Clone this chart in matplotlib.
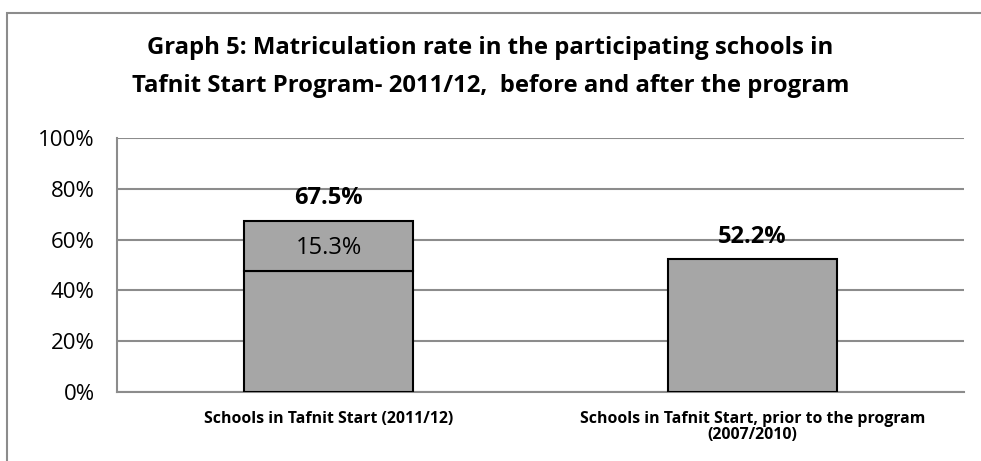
import matplotlib

matplotlib.use("Agg")
import matplotlib.pyplot as plt
from matplotlib.patches import Rectangle
import numpy as np

plt.rcParams["font.family"] = ["Open Sans", "DejaVu Sans"]

categories = [
    "Schools in Tafnit Start (2011/12)",
    "Schools in Tafnit Start, prior to the program\n(2007/2010)",
]
base_values = [47.5, 52.2]
added_values = [20.0, 0.0]
total_labels = ["67.5%", "52.2%"]
added_label = "15.3%"
yticks = [0, 20, 40, 60, 80, 100]

GRID = "#8c8c8c"
BAR = "#a6a6a6"

fig = plt.figure(figsize=(9.81, 4.61), dpi=100)
fig.patches.append(Rectangle((7 / 981, -0.1), 1.2, (461 - 13) / 461 + 0.1,
                             transform=fig.transFigure, fill=False,
                             edgecolor=GRID, linewidth=1.5))
ax = fig.add_axes([117 / 981, 69 / 461, 847 / 981, 254 / 461])

x = np.arange(len(categories))
ax.bar(x, base_values, width=0.40, color=BAR, edgecolor="black", linewidth=1.5, zorder=3)
ax.bar(x[:1], added_values[:1], bottom=base_values[:1], width=0.40, color=BAR,
       edgecolor="black", linewidth=1.5, zorder=3)

tops = [b + a for b, a in zip(base_values, added_values)]
for xi, top, lab in zip(x, tops, total_labels):
    ax.text(xi, top + 4.2, lab, ha="center", va="bottom", fontsize=17, fontweight="bold", zorder=4)
ax.text(x[0], base_values[0] + added_values[0] / 2 - 0.8, added_label, ha="center", va="center",
        fontsize=17, zorder=4)

ax.set_xlim(-0.5, 1.5)
ax.set_ylim(0, 100)
ax.set_yticks(yticks)
ax.set_yticklabels([f"{t}%" for t in yticks], fontsize=16)
ax.set_xticks(x)
ax.set_xticklabels(categories, fontsize=11.4, fontweight="bold", linespacing=1.0)
ax.tick_params(axis="x", length=0, pad=14)
ax.tick_params(axis="y", length=0, pad=16)
ax.grid(axis="y", color=GRID, linewidth=1.5, zorder=0)
for side in ("top", "right"):
    ax.spines[side].set_visible(False)
for side in ("left", "bottom"):
    ax.spines[side].set_color(GRID)
    ax.spines[side].set_linewidth(1.5)

fig.text(0.5, 1 - 67 / 461,
         "Graph 5: Matriculation rate in the participating schools in\n"
         "Tafnit Start Program- 2011/12,  before and after the program",
         ha="center", va="center", fontsize=17.2, fontweight="bold", linespacing=1.75)

fig.savefig("out.png", dpi=100, facecolor="white")
